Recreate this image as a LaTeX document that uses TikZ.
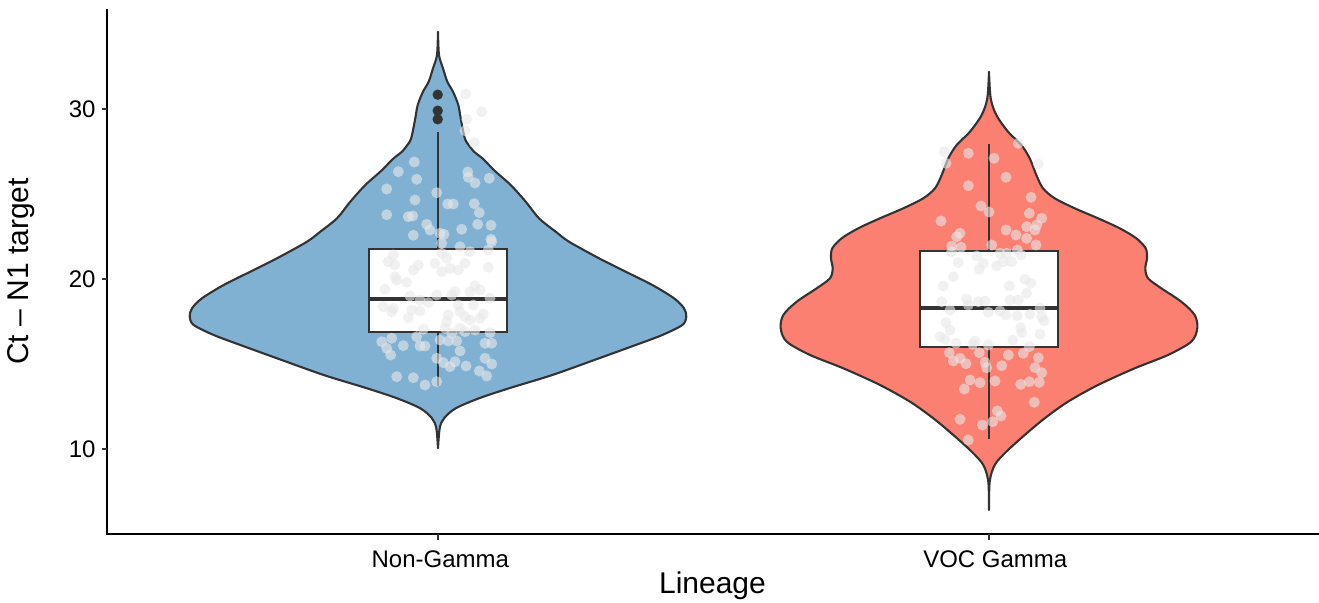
\documentclass[tikz,border=0pt]{standalone}
\usepackage{fontspec}
\setmainfont{Liberation Sans}
\definecolor{ngblue}{HTML}{80B1D3}
\definecolor{vocred}{HTML}{FB8072}
\definecolor{outl}{HTML}{333333}
\definecolor{ptcol}{HTML}{E8E8E8}
\tikzset{
  violinline/.style={draw=outl, line width=1.05pt, line join=round},
  boxline/.style={draw=outl, line width=1.05pt, fill=white},
  medline/.style={draw=outl, line width=2pt},
  whisk/.style={draw=outl, line width=1.05pt},
  outlier/.style={fill=outl},
  jit/.style={fill=ptcol, fill opacity=0.6},
  axisline/.style={draw=black, line width=1pt},
  tickline/.style={draw=outl, line width=1pt},
  ticklab/.style={inner sep=0pt, font=\fontsize{12}{14}\selectfont, text=black},
  axtitle/.style={inner sep=0pt, font=\fontsize{15}{18}\selectfont, text=black}
}
\begin{document}
\begin{tikzpicture}[x=0.5pt, y=-0.5pt]
\useasboundingbox (0,0) rectangle (1319,603);
% ---------- violin Non-Gamma ----------
\path[violinline, fill=ngblue]
 plot[smooth, tension=0.5] coordinates {(438,31.7) (439,55) (443,68.3) (447.3,81.7) (453,91.7) (458.3,105) (460.7,118.3) (464,135) (466.3,141.7) (474,151.7) (482.3,158.3) (495.7,171.7) (510.7,185) (525.7,201.7) (539,218.3) (555.7,231.7) (569,241.7) (599,258.3) (625.7,271.7) (652.3,285) (674,298.3) (684,308.3) (686.3,316.7) (682.3,325) (662.3,335) (635.7,345) (599,358.3) (552.3,375) (509,388.3) (479,398.3) (455.7,408.3) (444,418.3) (439.7,428.3) (438,448.3)}
 -- plot[smooth, tension=0.5] coordinates {(438,448.3) (436.3,428.3) (432,418.3) (420.3,408.3) (397,398.3) (367,388.3) (323.7,375) (277,358.3) (240.3,345) (213.7,335) (193.7,325) (189.7,316.7) (192,308.3) (202,298.3) (223.7,285) (250.3,271.7) (277,258.3) (307,241.7) (320.3,231.7) (337,218.3) (350.3,201.7) (365.3,185) (380.3,171.7) (393.7,158.3) (402,151.7) (409.7,141.7) (412,135) (415.3,118.3) (417.7,105) (423,91.7) (428.7,81.7) (433,68.3) (437,55) (438,31.7)}
 -- cycle;
% ---------- violin VOC Gamma ----------
\path[violinline, fill=vocred]
 plot[smooth, tension=0.5] coordinates {(989,71.7) (990.7,98.3) (996.3,115) (1008,131.7) (1021.3,145) (1029.7,158.3) (1036.3,175) (1043,188.3) (1054.7,198.3) (1074.7,208.3) (1098,218.3) (1119.7,228.3) (1136.3,238.3) (1145.7,248.3) (1147,258.3) (1145.3,268.3) (1148,278.3) (1161.3,288.3) (1181.3,301.7) (1194.7,315) (1197.3,328.3) (1191.3,341.7) (1168,355) (1134.7,368.3) (1098,385) (1068,401.7) (1044.7,418.3) (1024.7,435) (1006.3,451.7) (994.7,465) (989.7,481.7) (989,510)}
 -- plot[smooth, tension=0.5] coordinates {(989,510) (988.3,481.7) (983.3,465) (971.7,451.7) (953.3,435) (933.3,418.3) (910,401.7) (880,385) (843.3,368.3) (810,355) (786.7,341.7) (780.7,328.3) (783.3,315) (796.7,301.7) (816.7,288.3) (830,278.3) (832.7,268.3) (831,258.3) (832.3,248.3) (841.7,238.3) (858.3,228.3) (880,218.3) (903.3,208.3) (923.3,198.3) (935,188.3) (941.7,175) (948.3,158.3) (956.7,145) (970,131.7) (981.7,115) (987.3,98.3) (989,71.7)}
 -- cycle;
% ---------- boxplot Non-Gamma ----------
\coordinate (w1a) at (437.7,132);
\coordinate (w1b) at (437.7,249.3);
\coordinate (w1c) at (437.7,331.7);
\coordinate (w1d) at (437.7,385.7);
\draw[whisk] (w1a) -- (w1b);
\draw[whisk] (w1c) -- (w1d);
\draw[boxline] (369,249.3) rectangle (506.7,331.7);
\draw[medline] (369,298.7) -- (506.7,298.7);
\fill[outlier] (437.7,94.7) circle (2.6pt);
\fill[outlier] (437.7,110.7) circle (2.6pt);
\fill[outlier] (437.7,119.3) circle (2.6pt);
% ---------- boxplot VOC Gamma ----------
\coordinate (w2a) at (989,144);
\coordinate (w2b) at (989,250.7);
\coordinate (w2c) at (989,346.7);
\coordinate (w2d) at (989,439.3);
\draw[whisk] (w2a) -- (w2b);
\draw[whisk] (w2c) -- (w2d);
\draw[boxline] (920,250.7) rectangle (1058,346.7);
\draw[medline] (920,307.8) -- (1058,307.8);
% ---------- jittered points ----------
\foreach \p in {(465.7,94),(481.7,111.7),(466.7,119.3),(465,130.7),(474.3,142.7),(414.3,162),(398.3,171.7),(416.7,179.3),(467.7,172),(468.3,177.3),(475,183),(489.3,178.3),(386.7,189),(436.7,192.7),(415,200),(447.7,204),(453.3,204),(474.3,203.7),(479.3,212.7),(386.7,214.7),(408.3,216.7),(412.7,216),(426.7,224.3),(430,230),(477.7,224.3),(491,225.3),(440,233.3),(444,234.3),(461.7,229.3),(413.3,235.3),(491,239.3),(441.7,243.3),
(460,246.7),(470,251.7),(488.3,250),(491.7,241.7),(393.3,255),(388.3,261.7),(395,265),(441.7,253.3),(446.7,258.3),(435,263.3),(465,263.3),(418.3,265),(413.3,270),(441.7,271.7),(450,268.3),(458.3,270),(488.3,267.3),(395,276.7),(396.7,280),(406.7,282.3),(385,289.3),(475,285.7),(480,290),(470,291.7),(455,291.7),(451.7,295),(436.7,295),(410,296),(420,300),(428.3,302.7),(490,298.3),(458.3,305),(473.3,305),(383.3,306.7),(393.3,308.3),(391.7,311.7),(411.7,310),(420,311),(408.3,317.7),(448.3,315),(460,311.7),(465,316.7),(470,320),(483.3,314),(480,318.3),(446.7,321.7),(445,328.3),(460,328.3),(465,331.7),(475,330),(423.3,329.3),(490,332.7),(451.7,333.3),
(381.7,341.7),(391.7,338.3),(386.7,348.3),(390.7,355),(403.3,345.7),(416.7,336.7),(420,346),(425,346),(440,340),(448.3,341),(456.7,341),(460,351),(485,343.3),(491.7,343.3),(436.7,358.3),(443.3,362.7),(455,361.7),(450,366.7),(466,366),(485,358.3),(491.7,364),(479.3,371),(486.7,376),(396.7,376.7),(413.3,377.7),(425,385),(436.7,381.7),
(944,151.7),(968.3,153.3),(1018.3,143.3),(946,163.3),(994,158.3),(1038.3,164),(1006,177.3),(968.3,185.7),(1031,197.3),(981,206),(989,212),(1029.3,213.3),(941,221),(1041.7,218.3),(1036.7,225),(1026.7,226.7),(1006,230),(1016,235),(1035,230),(960,233.3),(956.7,236.7),(1026.7,238.3),(1036,245),(951.7,246),(961,247.3),(991.7,245),(951.7,251.7),(976.7,256),(1000,253.3),(1006.7,253.3),(1017.3,250),(1021,255),(958.3,262.7),(983.3,263.3),(996.7,266),(1003.3,261.7),(1011.7,261.7),(979.3,269.3),(953.3,276.7),(1025,279.3),(1031,283.3),(943.3,286),(1009.3,286),
(1026.7,293.3),(941.7,301.7),(966.7,299),(968.3,305),(978.3,301.7),(985,301),(1010,300),(1018.3,300),(950,310),(988.3,312.3),(1000,311),(1006,315),(1017.3,315.7),(1030,314.3),(1040,308.3),(1041.7,316.7),(1044,321),(946,322.7),(950,330),(940,336.7),(945,339.3),(956,343.3),(975,341),(972.7,344.3),(988.3,345),(1012.7,340),(1020.7,327.7),(1021.7,332.7),(1040,334.3),(1029.3,346.7),(949.3,352.7),(979.3,352.7),(1008.3,355),(1023.3,353.3),(1038.3,357.7),(953.3,361),(960,358.3),(966,363.7),(985,362.3),(986.7,367.7),(1001.7,365.7),(1035,367.7),(1041.7,372.7),(970,380),(964.3,389),(980,382.7),(995,381),(1020.7,384.3),(1029.3,381.7),(1039.3,382.3),(1034.3,402.3),(997.3,411),(1001,416),(992.7,421.7),(982.3,425),(960,419.3),(968.3,440)}
  \fill[jit] \p circle (2.75pt);
% ---------- axes ----------
\coordinate (axtop) at (107,9);
\coordinate (axorigin) at (107,534.3);
\coordinate (axright) at (1319,534.3);
\draw[axisline] (axtop) -- (axorigin) -- (axright);
\foreach \v/\yy in {30/109,20/279,10/449}{
  \coordinate (yt\v) at (102,\yy);
  \coordinate (ytb\v) at (107,\yy);
  \draw[tickline] (yt\v) -- (ytb\v);
  \node[ticklab, anchor=east] (ylab\v) at (96,\yy) {\v};
}
\coordinate (xt1) at (437.7,534.3);
\coordinate (xt1b) at (437.7,539.8);
\coordinate (xt2) at (989,534.3);
\coordinate (xt2b) at (989,539.8);
\draw[tickline] (xt1) -- (xt1b);
\draw[tickline] (xt2) -- (xt2b);
\node[ticklab, anchor=base] (xlab1) at (440.3,567.3) {Non-Gamma};
\node[ticklab, anchor=base] (xlab2) at (995.3,567.3) {VOC Gamma};
\node[axtitle, anchor=base] (xtitle) at (712.5,593.3) {Lineage};
\node[axtitle, anchor=base, rotate=90] (ytitle) at (28,271.5) {Ct – N1 target};
\end{tikzpicture}
\end{document}
